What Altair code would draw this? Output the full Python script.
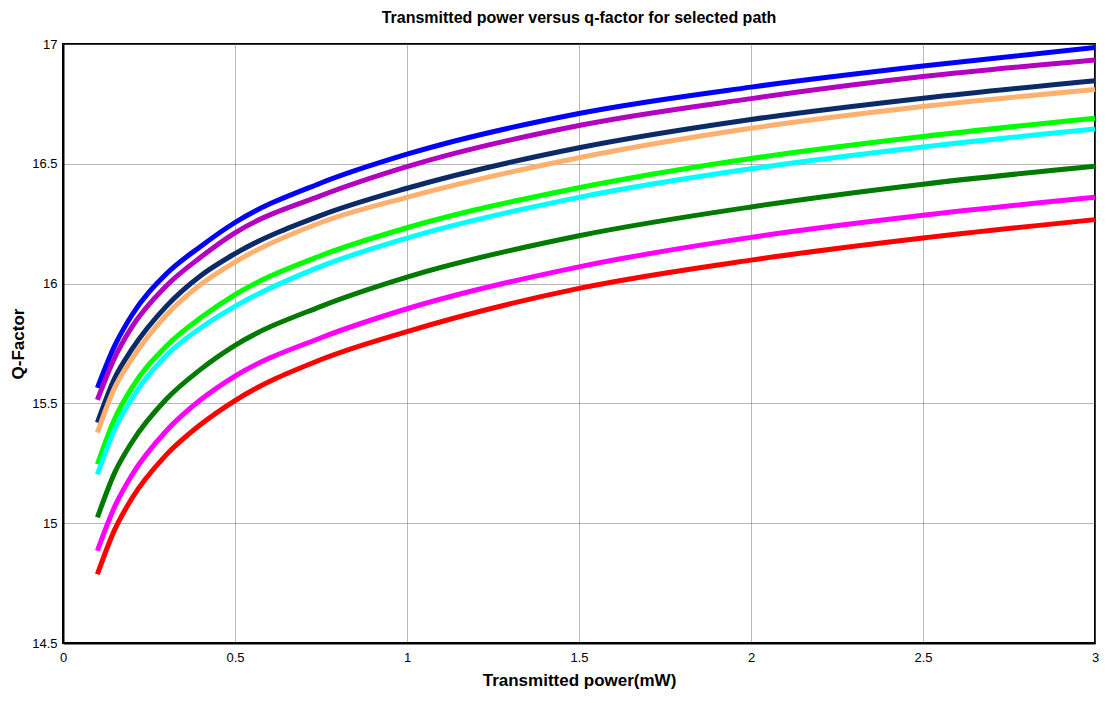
import altair as alt
import pandas as pd

power = [0.1, 0.15, 0.2, 0.3, 0.4, 0.5, 0.75, 1.0, 1.5, 2.0, 2.5, 3.0]

series_names = ["s1", "s2", "s3", "s4", "s5", "s6", "s7", "s8", "s9"]
series_colors = ["#0000FF", "#B400C0", "#0C2A68", "#FFB06E", "#00FF00",
                 "#00FFFF", "#007A00", "#FF00FF", "#FF0000"]

q_s1 = [15.565, 15.74, 15.868, 16.04, 16.155, 16.255, 16.42, 16.54, 16.71, 16.82, 16.908, 16.985]
q_s2 = [15.515, 15.69, 15.818, 15.99, 16.11, 16.212, 16.367, 16.488, 16.66, 16.772, 16.864, 16.933]
q_s3 = [15.42, 15.605, 15.725, 15.905, 16.033, 16.125, 16.285, 16.398, 16.567, 16.685, 16.774, 16.847]
q_s4 = [15.378, 15.565, 15.685, 15.868, 15.996, 16.09, 16.255, 16.36, 16.525, 16.648, 16.739, 16.81]
q_s5 = [15.246, 15.435, 15.565, 15.739, 15.857, 15.954, 16.117, 16.233, 16.40, 16.522, 16.614, 16.69]
q_s6 = [15.204, 15.39, 15.52, 15.70, 15.815, 15.905, 16.072, 16.19, 16.36, 16.479, 16.57, 16.645]
q_s7 = [15.024, 15.21, 15.337, 15.517, 15.642, 15.742, 15.905, 16.027, 16.20, 16.32, 16.415, 16.49]
q_s8 = [14.885, 15.068, 15.2, 15.385, 15.515, 15.614, 15.774, 15.895, 16.07, 16.193, 16.285, 16.36]
q_s9 = [14.787, 14.972, 15.103, 15.285, 15.412, 15.512, 15.683, 15.80, 15.98, 16.098, 16.19, 16.267]

all_q = [q_s1, q_s2, q_s3, q_s4, q_s5, q_s6, q_s7, q_s8, q_s9]

x_ticks = [0, 0.5, 1, 1.5, 2, 2.5, 3]
y_ticks = [14.5, 15, 15.5, 16, 16.5, 17]

rows = []
for name, qs in zip(series_names, all_q):
    for p, q in zip(power, qs):
        rows.append({"power": p, "q": q, "series": name})
df = pd.DataFrame(rows)

narrow = "'Liberation Sans Narrow', 'Arial Narrow', 'Liberation Sans', sans-serif"

chart = alt.Chart(df).mark_line(strokeWidth=5, interpolate="monotone").encode(
    x=alt.X("power:Q",
            scale=alt.Scale(domain=[0, 3], nice=False),
            axis=alt.Axis(values=x_ticks, title="Transmitted power(mW)", format="~g",
                          titleFont=narrow, titleFontSize=17, titleFontWeight="bold",
                          titleColor="black", titlePadding=8,
                          labelFont=narrow, labelFontSize=13, labelColor="black",
                          labelPadding=8, tickSize=0, labelFlush=False,
                          grid=True, gridColor="#707070", gridDash=[1, 1],
                          gridOpacity=1, gridWidth=1,
                          domainColor="black", domainWidth=2)),
    y=alt.Y("q:Q",
            scale=alt.Scale(domain=[14.5, 17], nice=False, zero=False),
            axis=alt.Axis(values=y_ticks, title="Q-Factor", format="~g",
                          titleFont="'Liberation Sans', Arial, sans-serif",
                          titleFontSize=17, titleFontWeight="bold",
                          titleColor="black", titlePadding=4,
                          labelFont=narrow, labelFontSize=13, labelColor="black",
                          labelPadding=6, tickSize=0, labelFlush=False,
                          grid=True, gridColor="#707070", gridDash=[1, 1],
                          gridOpacity=1, gridWidth=1,
                          domainColor="black", domainWidth=2)),
    color=alt.Color("series:N",
                    scale=alt.Scale(domain=series_names, range=series_colors),
                    legend=None),
    order=alt.Order("series:N", sort="descending"),
).properties(
    width=1032,
    height=599,
    background="white",
    title=alt.TitleParams("Transmitted power versus q-factor for selected path",
                          font=narrow, fontSize=16, fontWeight="bold",
                          color="black", offset=12, anchor="middle"),
    padding={"left": 63, "top": 44, "right": 11, "bottom": 60},
    autosize=alt.AutoSizeParams(type="none"),
).configure_view(
    stroke="black",
    strokeWidth=2,
)

chart.save("out.html", embed_options={"renderer": "svg", "actions": False})
